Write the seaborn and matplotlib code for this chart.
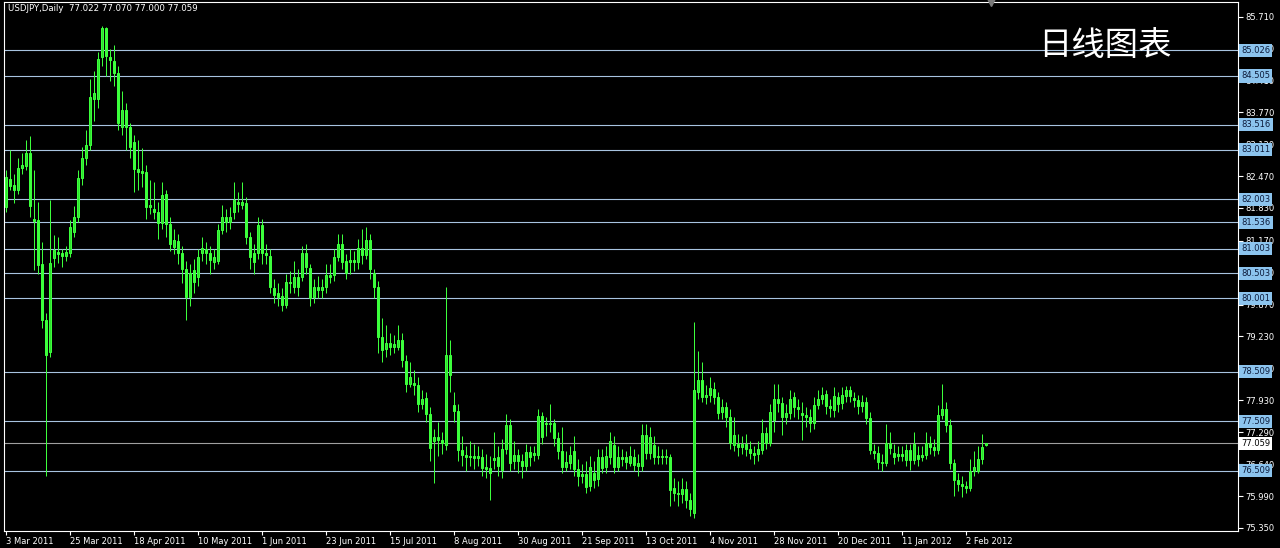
import numpy as np
import matplotlib
matplotlib.use("Agg")
import matplotlib.pyplot as plt
import matplotlib.transforms as mtransforms
import seaborn as sns

# ---------------- data ----------------
symbol_title = "USDJPY,Daily  77.022 77.070 77.000 77.059"
watermark = "日线图表"

open_ = [81.84, 82.42, 82.30, 82.20, 82.65, 82.69, 82.95, 81.61, 81.59, 80.70,
         79.56, 78.92, 80.82, 80.94, 80.92, 80.86, 80.92, 81.35, 81.65, 82.44,
         82.85, 83.11, 84.03, 84.03, 84.88, 85.47, 84.88, 84.80, 84.57, 83.48,
         83.82, 83.48, 83.17, 82.61, 82.57, 82.55, 81.84, 81.80, 81.75, 81.53,
         82.12, 81.51, 81.04, 81.17, 80.92, 80.60, 80.03, 80.58, 80.44, 80.92,
         81.00, 80.92, 80.74, 80.76, 81.39, 81.65, 81.55, 81.75, 81.96, 81.90,
         81.94, 81.25, 80.92, 80.92, 81.49, 80.92, 80.86, 80.21, 80.11, 80.05,
         79.87, 80.33, 80.23, 80.44, 80.44, 80.92, 80.62, 80.03, 80.23, 80.17,
         80.23, 80.48, 80.48, 80.84, 81.11, 80.76, 80.74, 80.78, 80.74, 81.02,
         80.88, 81.19, 80.52, 80.23, 79.22, 78.98, 79.10, 79.02, 79.02, 79.16,
         78.73, 78.27, 78.29, 78.25, 77.86, 77.98, 77.66, 77.11, 77.19, 77.13,
         77.03, 78.85, 77.84, 77.72, 76.93, 76.83, 76.79, 76.81, 76.77, 76.79,
         76.58, 76.56, 76.72, 76.79, 76.52, 76.95, 77.43, 76.70, 76.83, 76.70,
         76.60, 76.89, 76.83, 76.83, 77.62, 77.45, 77.47, 77.47, 77.17, 76.91,
         76.58, 76.66, 76.91, 76.54, 76.40, 76.44, 76.20, 76.46, 76.34, 76.79,
         76.58, 76.79, 77.03, 76.58, 76.79, 76.79, 76.66, 76.79, 76.60, 76.60,
         77.23, 76.87, 77.03, 76.79, 76.81, 76.79, 76.79, 76.16, 76.06, 76.03,
         76.14, 75.91, 75.65, 78.10, 78.35, 78.00, 78.04, 78.17, 78.00, 77.70,
         77.80, 77.60, 77.03, 77.05, 76.99, 77.05, 76.95, 76.87, 76.85, 76.93,
         77.27, 77.07, 77.54, 77.96, 77.88, 77.60, 77.68, 78.00, 77.80, 77.68,
         77.64, 77.60, 77.47, 77.84, 77.96, 78.06, 77.82, 77.74, 78.00, 77.88,
         78.02, 78.14, 77.98, 77.94, 77.82, 77.90, 77.58, 76.91, 76.87, 76.68,
         76.66, 77.07, 76.87, 76.81, 76.85, 76.72, 76.93, 76.72, 76.83, 76.79,
         76.83, 77.07, 76.99, 76.93, 77.64, 77.76, 77.43, 76.66, 76.32, 76.24,
         76.20, 76.16, 76.50, 76.50, 76.75, 77.022]

high = [82.60, 83.00, 82.52, 82.85, 82.95, 83.20, 83.28, 82.60, 81.96, 81.15,
        79.70, 82.00, 81.29, 81.24, 81.00, 81.05, 81.58, 81.86, 82.60, 83.07,
        83.40, 84.45, 84.60, 85.00, 85.51, 85.49, 85.05, 85.14, 84.70, 84.20,
        83.95, 83.55, 83.30, 83.20, 83.05, 82.70, 82.40, 82.35, 81.95, 82.35,
        82.20, 81.65, 81.40, 81.30, 81.05, 80.75, 80.70, 80.80, 81.00, 81.25,
        81.15, 81.05, 81.00, 81.50, 81.90, 81.80, 81.85, 82.35, 82.15, 82.35,
        82.05, 81.35, 81.10, 81.65, 81.60, 81.10, 81.00, 80.40, 80.30, 80.20,
        80.50, 80.55, 80.75, 80.60, 81.05, 81.10, 80.70, 80.40, 80.45, 80.40,
        80.70, 80.70, 81.00, 81.30, 81.30, 80.90, 81.00, 80.95, 81.20, 81.40,
        81.45, 81.30, 80.60, 80.35, 79.60, 79.45, 79.30, 79.25, 79.45, 79.30,
        78.85, 78.70, 78.55, 78.40, 78.15, 78.10, 77.80, 77.35, 77.50, 77.30,
        80.22, 79.15, 78.10, 77.85, 77.20, 77.00, 77.10, 77.05, 77.00, 76.95,
        76.85, 76.80, 77.30, 77.00, 77.15, 77.65, 77.55, 77.10, 76.95, 76.85,
        77.05, 77.00, 77.00, 77.75, 77.70, 77.60, 77.85, 77.55, 77.30, 77.40,
        76.90, 77.00, 77.20, 76.75, 76.65, 76.70, 76.80, 76.70, 76.95, 76.95,
        77.00, 77.30, 77.20, 77.00, 76.95, 76.90, 77.00, 76.95, 76.85, 77.45,
        77.45, 77.40, 77.20, 77.00, 76.95, 76.95, 76.85, 76.35, 76.30, 76.35,
        76.30, 76.05, 79.51, 78.94, 78.70, 78.25, 78.40, 78.30, 78.10, 77.95,
        77.90, 77.75, 77.60, 77.25, 77.20, 77.25, 77.10, 77.00, 77.10, 77.55,
        77.40, 77.85, 78.27, 78.27, 78.00, 77.85, 78.15, 78.10, 77.95, 77.90,
        77.80, 77.75, 78.00, 78.15, 78.20, 78.15, 77.95, 78.20, 78.10, 78.20,
        78.22, 78.22, 78.10, 78.05, 78.05, 78.00, 77.70, 77.05, 77.00, 76.85,
        77.45, 77.30, 77.05, 77.00, 77.00, 77.05, 77.05, 77.30, 77.00, 77.00,
        77.30, 77.20, 77.15, 77.84, 78.27, 77.90, 77.55, 76.75, 76.45, 76.40,
        76.30, 76.75, 76.90, 77.00, 77.25, 77.070]

low = [81.75, 82.20, 81.94, 82.12, 82.52, 82.60, 81.65, 80.58, 80.50, 79.40,
       76.40, 78.80, 80.64, 80.72, 80.64, 80.76, 80.84, 81.24, 81.55, 82.30,
       82.70, 83.00, 83.60, 83.85, 84.70, 84.50, 84.40, 84.30, 83.40, 83.30,
       83.00, 82.85, 82.15, 82.20, 82.25, 81.60, 81.70, 81.60, 81.20, 81.40,
       81.25, 80.95, 80.90, 80.70, 80.30, 79.56, 79.85, 80.10, 80.25, 80.75,
       80.70, 80.50, 80.60, 80.70, 81.30, 81.35, 81.40, 81.60, 81.75, 81.80,
       81.10, 80.60, 80.50, 80.80, 80.70, 80.70, 80.10, 79.90, 79.85, 79.75,
       79.80, 80.10, 80.10, 80.05, 80.35, 80.50, 79.85, 79.90, 80.00, 80.00,
       80.10, 80.30, 80.35, 80.75, 80.60, 80.40, 80.50, 80.55, 80.60, 80.70,
       80.80, 80.40, 80.00, 78.90, 78.70, 78.80, 78.85, 78.90, 78.95, 78.60,
       78.10, 78.20, 78.05, 77.70, 77.75, 77.50, 76.70, 76.25, 76.80, 76.85,
       76.93, 78.10, 77.50, 76.70, 76.60, 76.50, 76.60, 76.55, 76.60, 76.40,
       76.35, 75.91, 76.55, 76.40, 76.35, 76.85, 76.50, 76.55, 76.45, 76.35,
       76.50, 76.60, 76.70, 76.75, 77.05, 77.20, 77.30, 77.00, 76.75, 76.45,
       76.50, 76.55, 76.40, 76.20, 76.25, 76.05, 76.10, 76.15, 76.20, 76.45,
       76.45, 76.65, 76.45, 76.50, 76.60, 76.55, 76.60, 76.50, 76.40, 76.50,
       76.75, 76.75, 76.65, 76.65, 76.65, 76.65, 75.80, 75.90, 75.80, 75.85,
       75.75, 75.58, 75.55, 77.95, 77.90, 77.85, 77.90, 77.85, 77.55, 77.55,
       77.40, 76.95, 76.90, 76.80, 76.85, 76.80, 76.75, 76.65, 76.70, 76.85,
       76.95, 77.00, 77.30, 77.70, 77.23, 77.45, 77.55, 77.60, 77.55, 77.13,
       77.40, 77.30, 77.35, 77.75, 77.85, 77.65, 77.60, 77.60, 77.70, 77.75,
       77.90, 77.90, 77.80, 77.65, 77.70, 77.45, 76.85, 76.75, 76.55, 76.50,
       76.60, 76.85, 76.65, 76.70, 76.70, 76.60, 76.52, 76.65, 76.60, 76.70,
       76.75, 76.85, 76.80, 76.85, 77.55, 77.30, 76.55, 76.00, 76.10, 75.97,
       76.06, 76.10, 76.40, 76.45, 76.65, 77.000]

close = [82.46, 82.28, 82.20, 82.65, 82.71, 82.95, 81.86, 81.57, 80.68, 79.56,
         78.85, 80.72, 80.98, 80.90, 80.86, 80.94, 81.45, 81.65, 82.44, 82.85,
         83.11, 84.07, 84.15, 84.84, 85.47, 84.90, 84.82, 84.57, 83.56, 83.82,
         83.48, 83.07, 82.61, 82.55, 82.53, 81.84, 81.90, 81.75, 81.53, 82.10,
         81.51, 81.11, 81.19, 80.92, 80.60, 80.03, 80.52, 80.33, 80.84, 81.02,
         80.92, 80.78, 80.84, 81.39, 81.65, 81.55, 81.65, 82.00, 81.92, 81.96,
         81.25, 80.84, 80.74, 81.49, 80.92, 80.88, 80.23, 80.07, 80.03, 79.87,
         80.33, 80.31, 80.44, 80.23, 80.92, 80.64, 80.01, 80.23, 80.17, 80.23,
         80.48, 80.44, 80.84, 81.11, 80.74, 80.52, 80.78, 80.74, 81.02, 80.88,
         81.19, 80.60, 80.23, 79.22, 78.96, 79.10, 79.02, 79.08, 79.16, 78.75,
         78.27, 78.41, 78.25, 77.86, 77.96, 77.66, 76.97, 77.19, 77.13, 77.07,
         78.85, 78.45, 77.72, 76.93, 76.83, 76.79, 76.81, 76.77, 76.81, 76.56,
         76.54, 76.46, 76.77, 76.60, 76.95, 77.43, 76.66, 76.83, 76.70, 76.60,
         76.89, 76.79, 76.87, 77.62, 77.19, 77.47, 77.45, 77.17, 76.91, 76.58,
         76.68, 76.83, 76.54, 76.40, 76.44, 76.18, 76.58, 76.32, 76.79, 76.56,
         76.81, 77.11, 76.58, 76.79, 76.75, 76.68, 76.81, 76.62, 76.66, 77.23,
         76.87, 77.19, 76.79, 76.81, 76.79, 76.81, 76.12, 76.06, 76.03, 76.14,
         75.91, 75.73, 78.14, 78.35, 78.00, 78.04, 78.19, 78.00, 77.68, 77.80,
         77.60, 77.07, 77.23, 76.99, 77.05, 76.95, 76.87, 76.83, 76.95, 77.27,
         77.07, 77.70, 77.96, 77.88, 77.60, 77.68, 77.96, 77.80, 77.76, 77.64,
         77.60, 77.47, 77.84, 77.96, 78.04, 77.82, 77.78, 78.02, 77.86, 78.04,
         78.14, 78.02, 77.94, 77.82, 77.90, 77.58, 76.93, 76.87, 76.68, 76.66,
         77.07, 76.97, 76.79, 76.85, 76.81, 76.93, 76.72, 77.05, 76.75, 76.83,
         77.07, 76.99, 76.93, 77.64, 77.76, 77.43, 76.66, 76.32, 76.24, 76.20,
         76.16, 76.50, 76.58, 76.75, 76.99, 77.059]

date_labels = ["3 Mar 2011", "25 Mar 2011", "18 Apr 2011", "10 May 2011",
               "1 Jun 2011", "23 Jun 2011", "15 Jul 2011", "8 Aug 2011",
               "30 Aug 2011", "21 Sep 2011", "13 Oct 2011", "4 Nov 2011",
               "28 Nov 2011", "20 Dec 2011", "11 Jan 2012", "2 Feb 2012"]
bars_per_label = 16

price_ticks = [85.710, 85.060, 84.410, 83.770, 83.120, 82.470, 81.830, 81.170,
               80.530, 79.870, 79.230, 78.580, 77.930, 77.290, 76.640, 75.990,
               75.350]

levels = [85.026, 84.505, 83.516, 83.011, 82.003, 81.536, 81.003, 80.503,
          80.001, 78.509, 77.509, 76.509]
bid = 77.059

# ---------------- style ----------------
sns.set_theme(style="dark", rc={"axes.facecolor": "black",
                                "figure.facecolor": "black",
                                "axes.grid": False})
plt.rcParams["font.family"] = ["DejaVu Sans", "Noto Sans CJK SC"]

GREEN = "#3cff3c"
BODY_UP = "#2ee02e"
LEVEL_C = "#a8c4e0"
BOX_C = "#8cc4ee"
BID_C = "#a0a0a0"
PX = 0.72  # one pixel in points at dpi 100

W, H = 1280, 548
fig = plt.figure(figsize=(W / 100, H / 100), dpi=100)
ax = fig.add_axes([3.5 / W, 1 - 531 / H, 1234 / W, 529.5 / H])
ax.set_facecolor("black")

o = np.array(open_)
h = np.array(high)
l = np.array(low)
c = np.array(close)
idx = np.arange(len(c))
up = c >= o

# wicks
ax.vlines(idx, l, h, colors=GREEN, linewidth=PX, zorder=3)
# bodies
ax.bar(idx[up], np.maximum(c[up] - o[up], 0.004), bottom=o[up], width=0.5,
       facecolor=BODY_UP, edgecolor=GREEN, linewidth=PX, zorder=4)
ax.bar(idx[~up], np.maximum(o[~up] - c[~up], 0.004), bottom=c[~up], width=0.5,
       facecolor=GREEN, edgecolor=GREEN, linewidth=PX, zorder=4)

# level lines
for lv in levels:
    ax.axhline(lv, color=LEVEL_C, linewidth=0.8, zorder=1)
ax.axhline(bid, color=BID_C, linewidth=0.8, zorder=1)

# limits (4 px per bar, bar centres on pixel centres)
ax.set_xlim(-0.5, 308.0)
ax.set_ylim(75.284, 86.014)

# axes/ticks
for s in ax.spines.values():
    s.set_color("white")
    s.set_linewidth(0.8)
ax.yaxis.tick_right()
ax.set_yticks(price_ticks)
ax.set_yticklabels([f"{v:.3f}" for v in price_ticks])
ax.set_xticks(np.arange(len(date_labels)) * bars_per_label)
ax.set_xticklabels(date_labels, ha="left")
ax.tick_params(axis="y", colors="white", labelcolor="white", length=3.5,
               width=0.8, pad=2, labelsize=6, direction="out", right=True,
               left=False)
ax.tick_params(axis="x", colors="white", labelcolor="white", length=3,
               width=0.8, pad=1.5, labelsize=6, direction="out", bottom=True)
for lab in ax.get_xticklabels():
    lab.set_horizontalalignment("left")
ax.grid(False)

# level price boxes on the right axis
trans = mtransforms.blended_transform_factory(ax.transAxes, ax.transData)
for lv in levels:
    ax.text(1.0030, lv, f"{lv:.3f}", transform=trans, ha="left", va="center",
            fontsize=6, color="#0c1a3a", clip_on=False, zorder=10,
            bbox=dict(boxstyle="square,pad=0.25", fc=BOX_C, ec="none"))
ax.text(1.0030, bid, f"{bid:.3f}", transform=trans, ha="left", va="center",
        fontsize=6, color="black", clip_on=False, zorder=10,
        bbox=dict(boxstyle="square,pad=0.25", fc="white", ec="none"))

# chart-shift marker
ax.plot([246.25], [86.014], marker="v", markersize=6, color="#7a7a7a",
        clip_on=False, zorder=6)

# title and watermark
fig.text(8 / W, 1 - 4 / H, symbol_title, color="white", fontsize=6.2,
         ha="left", va="top")
fig.text(1105 / W, 1 - 46 / H, watermark, color="white", fontsize=24,
         ha="center", va="center", family=["Noto Sans CJK SC", "DejaVu Sans"])

fig.savefig("out.png", dpi=100, facecolor="black")
